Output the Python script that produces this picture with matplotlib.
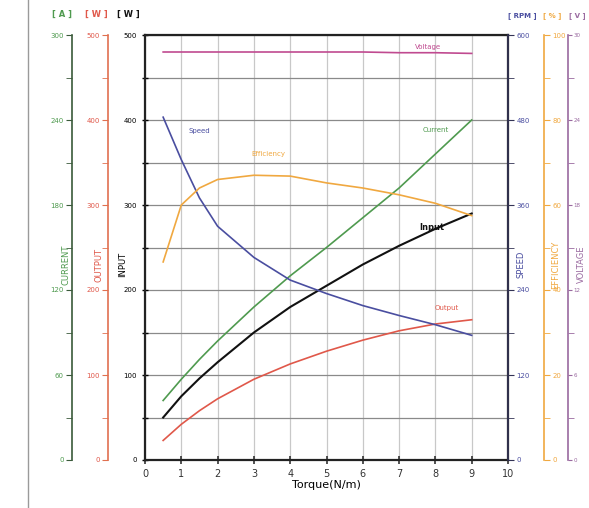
import matplotlib
matplotlib.use("Agg")
import matplotlib.pyplot as plt
from matplotlib.ticker import MultipleLocator
from matplotlib.lines import Line2D

# torque (N/m)
torque = [0.5, 1, 1.5, 2, 3, 4, 5, 6, 7, 8, 9]

input_w = [50, 75, 96, 115, 150, 180, 205, 230, 252, 272, 290]
output_w = [23, 42, 58, 72, 95, 113, 128, 141, 152, 160, 165]
current_a = [42, 57, 71, 84, 108, 130, 150, 171, 192, 216, 240]
speed_rpm = [484, 424, 370, 330, 286, 254, 235, 218, 204, 191, 176]
eff_pct = [46.6, 60, 64, 66, 67, 66.8, 65.2, 64, 62.4, 60.4, 57.5]
voltage_v = [28.8, 28.8, 28.8, 28.8, 28.8, 28.8, 28.8, 28.8, 28.75, 28.75, 28.7]

x_ticks = list(range(0, 11))

c_green = "#4f9a4f"
c_red = "#e0584a"
c_blue = "#4a4ea0"
c_orange = "#f0a840"
c_pink = "#c04a90"
c_purple = "#9a6aa0"

fig = plt.figure(figsize=(5.89, 5.08), dpi=100)
ax = fig.add_axes([145 / 589, 48 / 508, 363 / 589, 425 / 508])

# grid on main (input) axis
ax.set_xlim(0, 10)
ax.set_ylim(0, 500)
ax.set_xticks(x_ticks)
ax.yaxis.set_major_locator(MultipleLocator(100))
ax.yaxis.set_minor_locator(MultipleLocator(50))
ax.grid(True, which="major", axis="x", color="#c8c8c8", lw=0.9)
ax.grid(True, which="both", axis="y", color="#8a8a8a", lw=0.9)
for s in ax.spines.values():
    s.set_linewidth(1.6)
    s.set_color("#222222")
ax.tick_params(axis="y", which="both", direction="inout", length=5, labelsize=5, width=1)
ax.tick_params(axis="x", direction="inout", length=6, labelsize=7, width=1.2, colors="#333333")
ax.set_xlabel("Torque(N/m)", fontsize=8, labelpad=1)
ax.set_ylabel("INPUT", fontsize=6)
ax.yaxis.set_label_coords(-0.05, 0.46)
ax.plot(torque, input_w, color="#111111", lw=1.5)


def side_axis(pos, color, top, label, side, label_x, spine_color=None):
    a = ax.twinx()
    a.set_ylim(0, top)
    a.yaxis.set_major_locator(MultipleLocator(top / 5))
    a.yaxis.set_minor_locator(MultipleLocator(top / 10))
    for s in a.spines.values():
        s.set_visible(False)
    sp = a.spines[side]
    sp.set_visible(True)
    sp.set_position(("axes", pos))
    sp.set_color(spine_color or color)
    sp.set_linewidth(1.2)
    a.yaxis.set_ticks_position(side)
    a.tick_params(axis="y", which="both", direction="out", labelsize=5,
                  colors=spine_color or color, labelcolor=color, length=4, pad=2)
    a.set_ylabel(label, color=color, fontsize=6, rotation=90)
    a.yaxis.set_label_coords(label_x, 0.46)
    return a


ax_cur = side_axis(-0.201, c_green, 300, "CURRENT", "left", -0.229, "#3a5a3a")
ax_out = side_axis(-0.102, c_red, 500, "OUTPUT", "left", -0.138, "#e07050")
ax_spd = side_axis(1.0, c_blue, 600, "SPEED", "right", 1.024, "#333355")
ax_eff = side_axis(1.099, c_orange, 100, "EFFICIENCY", "right", 1.12)
ax_vol = side_axis(1.165, c_purple, 30, "VOLTAGE", "right", 1.19)
ax_vol.tick_params(axis="y", labelsize=4, pad=1, length=3)

ax_cur.plot(torque, current_a, color=c_green, lw=1.2)
ax_out.plot(torque, output_w, color=c_red, lw=1.2)
ax_spd.plot(torque, speed_rpm, color=c_blue, lw=1.2)
ax_eff.plot(torque, eff_pct, color=c_orange, lw=1.2)
ax_vol.plot(torque, voltage_v, color=c_pink, lw=1.2)

# curve names
ax.text(1.5, 385, "Speed", color=c_blue, fontsize=5, ha="center")
ax.text(3.4, 358, "Efficiency", color=c_orange, fontsize=5, ha="center")
ax.text(8.0, 386, "Current", color=c_green, fontsize=5, ha="center")
ax.text(7.9, 270, "Input", color="#111111", fontsize=6, ha="center", fontweight="bold")
ax.text(8.3, 177, "Output", color=c_red, fontsize=5, ha="center")
ax.text(7.8, 483, "Voltage", color=c_pink, fontsize=5, ha="center")

# unit headers
fig.text(62 / 589, 1 - 17 / 508, "[ A ]", color=c_green, fontsize=6, ha="center", fontweight="bold")
fig.text(96 / 589, 1 - 17 / 508, "[ W ]", color=c_red, fontsize=6, ha="center", fontweight="bold")
fig.text(128 / 589, 1 - 17 / 508, "[ W ]", color="#111111", fontsize=6, ha="center", fontweight="bold")
fig.text(522 / 589, 1 - 17 / 508, "[ RPM ]", color=c_blue, fontsize=5, ha="center", fontweight="bold")
fig.text(552 / 589, 1 - 17 / 508, "[ % ]", color=c_orange, fontsize=5, ha="center", fontweight="bold")
fig.text(577 / 589, 1 - 17 / 508, "[ V ]", color=c_purple, fontsize=5, ha="center", fontweight="bold")

# page border line on the left
fig.add_artist(Line2D([28 / 589, 28 / 589], [0, 1], color="#9a9a9a", lw=1, transform=fig.transFigure))

fig.savefig("out.png", dpi=100)
